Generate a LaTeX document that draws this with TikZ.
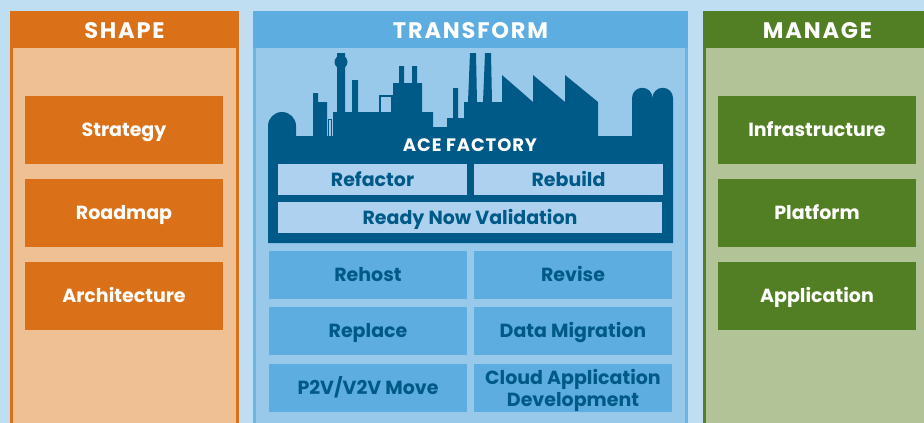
\documentclass[tikz,border=0pt]{standalone}
\usepackage{fontspec}
\setmainfont{Poppins}
\newfontfamily\hdfont{Poppins}[LetterSpace=8]
\newfontfamily\acefont{Poppins}[LetterSpace=5]
\definecolor{bgblue}{HTML}{C0DEF2}
\definecolor{orangehd}{HTML}{DA7119}
\definecolor{peach}{HTML}{F0C095}
\definecolor{bluehd}{HTML}{5DADE0}
\definecolor{bluebody}{HTML}{99C9EA}
\definecolor{blueedge}{HTML}{6CB4E3}
\definecolor{factory}{HTML}{005A87}
\definecolor{factorybox}{HTML}{ADD1EE}
\definecolor{greenhd}{HTML}{527F23}
\definecolor{greenbody}{HTML}{B3C398}
\tikzset{
  hdtext/.style={text=white,font=\hdfont\fontsize{22.5}{22.5}\selectfont\bfseries,text height=16pt,text depth=0pt,inner sep=0pt},
  boxfont/.style={font=\fontsize{19}{19}\selectfont\bfseries,text height=13.3pt,text depth=0pt,inner sep=0pt},
  whitebox/.style={boxfont,text=white,minimum width=198pt,minimum height=68pt},
  orangebox/.style={whitebox,fill=orangehd},
  greenbox/.style={whitebox,fill=greenhd},
  bluebox/.style={boxfont,text=factory,minimum width=198pt,minimum height=48pt,fill=bluehd},
  facbox/.style={boxfont,text=factory,minimum height=31pt,fill=factorybox},
}
\begin{document}
\begin{tikzpicture}[x=1pt,y=-1pt]
\useasboundingbox (0,0) rectangle (924,423);
\clip (0,0) rectangle (924,423);
\fill[bgblue] (0,0) rectangle (924,423);
% SHAPE column
\fill[orangehd] (10,48) rectangle (239,430);
\fill[peach] (13,48) rectangle (236,430);
\fill[orangehd] (10,11) rectangle (239,48);
\node[hdtext] (shapehd) at (124.5,30) {SHAPE};
% TRANSFORM column
\fill[blueedge] (253,48) rectangle (688,430);
\fill[bluebody] (256,48) rectangle (685,430);
\fill[bluehd] (253,11) rectangle (688,48);
\node[hdtext] (transhd) at (470.5,30) {TRANSFORM};
% MANAGE column
\fill[greenhd] (703,48) rectangle (940,430);
\fill[greenbody] (705.5,48) rectangle (940,430);
\fill[greenhd] (703,11) rectangle (940,48);
\node[hdtext] (managehd) at (817.5,30) {MANAGE};
% SHAPE boxes
\node[orangebox] (strategy) at (124,130) {Strategy};
\node[orangebox] (roadmap) at (124,213) {Roadmap};
\node[orangebox] (architecture) at (124,296) {Architecture};
% MANAGE boxes
\node[greenbox] (infra) at (817,130) {Infrastructure};
\node[greenbox] (platform) at (817,213) {Platform};
\node[greenbox] (application) at (817,296) {Application};
% Factory silhouette
\fill[factory] (268,243) -- (268,126) arc[start angle=180,end angle=0,radius=14pt]
  -- (296,136) -- (313,136) -- (313,93) -- (318,93) -- (318,102) -- (327,102)
  -- (327,136) -- (333,136) -- (333,112) -- (337,112) -- (337,53) -- (345,53)
  -- (345,112) -- (352,112) -- (352,80) -- (358,80) -- (358,112) -- (379,112)
  -- (379,95) -- (393,95) -- (393,83) -- (399,83) -- (399,66) -- (404,66)
  -- (404,83) -- (412,83) -- (412,66) -- (417,66) -- (417,83) -- (422,83)
  -- (422,112) -- (433,112) -- (433,127) -- (447,127) -- (447,118) -- (453,118)
  -- (453,88) -- (458,88) -- (458,118) -- (464,118) -- (464,102) -- (468,102)
  -- (470,53) -- (476,53) -- (477,102) -- (483,102) -- (485,53) -- (491,53)
  -- (492,102) -- (502,102) -- (502,75) -- (533,102) -- (533,75) -- (565,102)
  -- (565,75) -- (598,102) -- (598,136) -- (632,136) -- (632,98)
  arc[start angle=180,end angle=0,radius=10.25pt]
  arc[start angle=180,end angle=0,radius=10.25pt] -- (673,243) -- cycle;
\fill[bluebody] (381,97) rectangle (391,112);
\fill[factory] (341,62) circle[radius=6.5pt];
\draw[factory,line width=1pt] (328,119) rectangle (331.5,136);
\node[text=white,font=\acefont\fontsize{18}{18}\selectfont\bfseries,text height=12.6pt,text depth=0pt,inner sep=0pt] (ace) at (470,145.5) {ACE FACTORY};
\node[facbox,minimum width=189pt] (refactor) at (372.5,179.5) {Refactor};
\node[facbox,minimum width=189pt] (rebuild) at (568.5,179.5) {Rebuild};
\node[facbox,minimum width=384pt] (rnv) at (470,217.5) {Ready Now Validation};
% Transform lower boxes
\node[bluebox] (rehost) at (368,275) {Rehost};
\node[bluebox] (revise) at (573,275) {Revise};
\node[bluebox] (replace) at (368,331) {Replace};
\node[bluebox] (datamig) at (573,331) {Data Migration};
\node[bluebox] (p2v) at (368,388) {P2V/V2V Move};
\node[bluebox] (cloud) at (573,388) {};
\node[boxfont,text=factory,text height=,text depth=,align=center,font=\fontsize{19}{22}\selectfont\bfseries,yshift=-2.5pt] (cloudtext) at (cloud.center) {Cloud Application\\Development};
\end{tikzpicture}
\end{document}
